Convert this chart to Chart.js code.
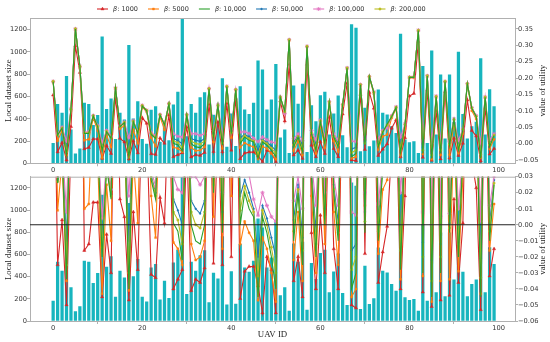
<!DOCTYPE html>
<html lang="en">
<head>
<meta charset="UTF-8">
<title>UAV dataset size and utility</title>
<script src="https://cdn.jsdelivr.net/npm/chart.js"></script>
<style>
  body { margin: 0; background: #fff; }
  #wrap { position: relative; width: 550px; height: 342px; }
  #botBox { position: absolute; left: 0; top: 170px; width: 550px; height: 172px; }
  #topBox { position: absolute; left: 0; top: 0; width: 550px; height: 176px; }
  canvas { display: block; }
</style>
</head>
<body>
<div id="wrap">
  <div id="botBox"><canvas id="bottomChart" width="550" height="172"></canvas></div>
  <div id="topBox"><canvas id="topChart" width="550" height="176"></canvas></div>
</div>
<script>
// ---- data ----
const uavIds = Array.from({length: 100}, (_, i) => i);

const datasetSize = [
  180, 530, 450, 780, 300, 85, 130, 540, 530, 340,
  430, 1135, 485, 580, 215, 450, 390, 1060, 400, 555,
  215, 172, 478, 510, 190, 360, 205, 525, 640, 1295,
  240, 530, 450, 590, 635, 165, 432, 380, 760, 146,
  445, 152, 690, 480, 440, 540, 920, 840, 480, 570,
  890, 228, 300, 90, 696, 531, 711, 99, 519, 375,
  609, 639, 255, 444, 606, 249, 141, 1245, 1215, 105,
  495, 150, 201, 660, 450, 435, 330, 270, 1160, 210,
  186, 195, 90, 870, 180, 1010, 255, 795, 219, 795,
  370, 1000, 440, 219, 330, 370, 940, 255, 662, 510
];

const beta1000 = [
  0.148, -0.025, 0.003, -0.050, 0.052, 0.298, 0.217, -0.016, -0.012, 0.014,
  0.014, -0.045, -0.006, -0.030, 0.141, 0.016, 0.005, -0.047, 0.008, -0.028,
  0.079, 0.062, -0.031, -0.033, 0.017, 0.001, 0.087, -0.040, -0.034, -0.028,
  0.050, -0.041, -0.034, -0.036, -0.027, 0.120, -0.024, 0.065, -0.025, 0.123,
  -0.020, 0.138, -0.046, -0.029, -0.026, -0.026, -0.038, -0.055, -0.020, -0.028,
  -0.055, 0.130, 0.069, 0.242, -0.035, -0.020, -0.045, 0.242, -0.005, -0.040,
  0.006, -0.030, 0.080, -0.015, -0.040, 0.090, 0.184, -0.050, -0.052, 0.150,
  -0.018, 0.156, 0.108, -0.036, -0.017, -0.001, 0.047, 0.072, -0.040, 0.018,
  0.145, 0.153, 0.311, -0.042, 0.163, -0.051, 0.100, -0.047, 0.158, -0.044,
  0.016, -0.036, 0.001, 0.133, 0.040, 0.023, -0.053, 0.108, -0.032, -0.015
];

const beta5000 = [
  0.187, 0.009, 0.040, -0.035, 0.100, 0.347, 0.232, 0.010, 0.013, 0.078,
  0.040, -0.043, 0.025, -0.010, 0.167, 0.045, 0.055, -0.041, 0.042, 0.001,
  0.112, 0.097, 0.018, -0.008, 0.082, 0.042, 0.119, -0.011, -0.015, -0.025,
  0.084, -0.012, -0.022, -0.020, -0.010, 0.165, 0.005, 0.112, -0.015, 0.172,
  0.018, 0.162, -0.012, 0.002, -0.005, -0.010, -0.047, -0.008, -0.015, -0.030,
  -0.048, 0.139, 0.095, 0.314, -0.022, 0.008, -0.035, 0.294, 0.018, -0.030,
  0.058, -0.012, 0.122, 0.008, -0.025, 0.115, 0.228, -0.045, -0.040, 0.177,
  0.012, 0.202, 0.152, -0.018, 0.022, 0.028, 0.078, 0.106, -0.034, 0.045,
  0.200, 0.200, 0.343, -0.032, 0.204, -0.048, 0.140, -0.035, 0.187, -0.034,
  0.062, -0.029, 0.030, 0.180, 0.100, 0.075, -0.043, 0.139, -0.016, 0.013
];

const beta10000 = [
  0.189, 0.026, 0.047, -0.034, 0.104, 0.349, 0.235, 0.031, 0.031, 0.084,
  0.051, -0.020, 0.036, 0.016, 0.169, 0.051, 0.064, -0.040, 0.067, 0.031,
  0.115, 0.100, 0.028, 0.016, 0.087, 0.057, 0.121, 0.001, -0.004, -0.022,
  0.087, 0.000, -0.010, -0.012, 0.000, 0.167, 0.020, 0.116, -0.005, 0.174,
  0.030, 0.164, 0.000, 0.020, 0.010, 0.005, -0.045, 0.005, -0.005, -0.020,
  -0.040, 0.141, 0.100, 0.316, -0.010, 0.020, -0.025, 0.296, 0.030, -0.020,
  0.067, 0.000, 0.126, 0.020, -0.010, 0.118, 0.230, -0.040, -0.030, 0.179,
  -0.005, 0.204, 0.156, -0.010, 0.035, 0.060, 0.082, 0.110, -0.028, 0.057,
  0.202, 0.202, 0.345, -0.030, 0.206, -0.045, 0.143, -0.030, 0.189, -0.005,
  0.072, -0.020, 0.042, 0.182, 0.108, 0.082, -0.045, 0.141, -0.010, 0.025
];

const beta50000 = [
  0.190, 0.028, 0.049, -0.010, 0.105, 0.350, 0.236, 0.033, 0.034, 0.085,
  0.053, -0.008, 0.038, 0.019, 0.170, 0.053, 0.065, -0.010, 0.068, 0.034,
  0.116, 0.101, 0.031, 0.020, 0.088, 0.059, 0.122, 0.016, 0.009, 0.000,
  0.088, 0.015, 0.010, 0.007, 0.015, 0.168, 0.030, 0.117, 0.008, 0.175,
  0.038, 0.165, 0.018, 0.028, 0.020, 0.010, -0.020, 0.012, 0.004, -0.008,
  -0.020, 0.142, 0.096, 0.317, 0.003, 0.025, -0.008, 0.297, 0.035, -0.004,
  0.070, 0.010, 0.127, 0.025, 0.001, 0.119, 0.231, -0.016, -0.012, 0.180,
  0.008, 0.205, 0.157, 0.002, 0.038, 0.054, 0.084, 0.111, -0.004, 0.059,
  0.203, 0.203, 0.346, -0.011, 0.207, -0.022, 0.144, -0.012, 0.190, 0.001,
  0.074, -0.005, 0.044, 0.183, 0.109, 0.084, -0.021, 0.142, 0.001, 0.028
];

const beta100000 = [
  0.190, 0.030, 0.050, 0.008, 0.106, 0.350, 0.236, 0.035, 0.036, 0.086,
  0.055, 0.004, 0.040, 0.022, 0.170, 0.055, 0.066, 0.018, 0.070, 0.036,
  0.117, 0.102, 0.034, 0.024, 0.089, 0.060, 0.122, 0.030, 0.022, 0.020,
  0.089, 0.030, 0.030, 0.025, 0.030, 0.168, 0.040, 0.118, 0.020, 0.175,
  0.045, 0.165, 0.035, 0.036, 0.031, 0.016, 0.006, 0.020, 0.012, 0.005,
  0.002, 0.142, 0.092, 0.317, 0.015, 0.030, 0.010, 0.297, 0.040, 0.012,
  0.072, 0.020, 0.128, 0.030, 0.012, 0.120, 0.231, 0.008, 0.006, 0.180,
  0.020, 0.205, 0.158, 0.013, 0.040, 0.047, 0.085, 0.112, 0.020, 0.060,
  0.203, 0.203, 0.346, 0.008, 0.207, 0.000, 0.145, 0.005, 0.190, 0.007,
  0.075, 0.010, 0.045, 0.183, 0.110, 0.085, 0.002, 0.142, 0.012, 0.030
];

const beta200000 = [
  0.190, 0.027, 0.048, -0.025, 0.105, 0.350, 0.236, 0.032, 0.033, 0.085,
  0.052, -0.014, 0.037, 0.018, 0.170, 0.052, 0.065, -0.030, 0.068, 0.033,
  0.116, 0.101, 0.030, 0.018, 0.088, 0.058, 0.122, 0.008, 0.003, -0.012,
  0.088, 0.008, 0.000, -0.002, 0.008, 0.168, 0.025, 0.117, 0.002, 0.175,
  0.034, 0.165, 0.009, 0.024, 0.015, 0.008, -0.032, 0.009, 0.000, -0.014,
  -0.030, 0.142, 0.098, 0.317, -0.004, 0.022, -0.016, 0.297, 0.032, -0.012,
  0.069, 0.005, 0.127, 0.022, -0.005, 0.119, 0.231, -0.028, -0.020, 0.180,
  0.002, 0.205, 0.157, -0.004, 0.036, 0.057, 0.083, 0.111, -0.016, 0.058,
  0.203, 0.203, 0.346, -0.020, 0.207, -0.035, 0.144, -0.020, 0.190, -0.002,
  0.073, -0.012, 0.043, 0.183, 0.109, 0.083, -0.033, 0.142, -0.004, 0.026
];

const betaLabels = ['1000', '5000', '10,000', '50,000', '100,000', '200,000'];
const xTicks = [0, 20, 40, 60, 80, 100];
const sizeTicks = [0, 200, 400, 600, 800, 1000, 1200];
const utilTicksTop = [-0.05, 0, 0.05, 0.10, 0.15, 0.20, 0.25, 0.30, 0.35];
const utilTicksBottom = [-0.06, -0.05, -0.04, -0.03, -0.02, -0.01, 0, 0.01, 0.02, 0.03];

// ---- styling ----
const utilitySeries = [beta1000, beta5000, beta10000, beta50000, beta100000, beta200000];
// z: draw order (lower = on top)
const seriesStyle = [
  {color: '#d62728', point: 'triangle', r: 1.9, z: 6},
  {color: '#ff7f0e', point: 'rect', r: 1.4, z: 5},
  {color: '#2ca02c', point: 'circle', r: 0, z: 1},
  {color: '#1f77b4', point: 'circle', r: 0.9, z: 4},
  {color: '#e377c2', point: 'star', r: 2.0, z: 3},
  {color: '#bcbd22', point: 'circle', r: 1.2, z: 2}
];
const barColor = '#17b5be';
const axisColor = '#b0b0b0';
const tickColor = '#333';
const tickFont = {family: 'DejaVu Sans', size: 6.7};
const titleFont = {family: 'Liberation Serif', size: 8.8};

function buildDatasets() {
  const ds = [{
    type: 'bar',
    data: uavIds.map((x, i) => ({x: x, y: datasetSize[i]})),
    backgroundColor: barColor,
    barThickness: 2.6,
    yAxisID: 'yL',
    order: 10
  }];
  utilitySeries.forEach((vals, k) => {
    const st = seriesStyle[k];
    ds.push({
      type: 'line',
      label: 'β: ' + betaLabels[k],
      data: uavIds.map((x, i) => ({x: x, y: vals[i]})),
      borderColor: st.color,
      backgroundColor: st.color,
      borderWidth: 1.1,
      pointStyle: st.point,
      pointRadius: st.r,
      pointBorderWidth: st.point === 'star' ? 0.9 : 0.4,
      tension: 0,
      yAxisID: 'yR',
      order: st.z
    });
  });
  return ds;
}

function fmtUtil(v) {
  const s = Math.abs(v).toFixed(2);
  return v < -1e-9 ? '\u2212' + s : s;
}

function buildScales(leftMax, rightMin, rightMax, rightTicks, xHeight, showXTitle) {
  const gridOpts = {display: true, drawOnChartArea: false, tickLength: 3, color: axisColor};
  return {
    x: {
      type: 'linear', min: -5.2, max: 103.7, offset: false,
      grid: gridOpts, border: {color: axisColor},
      ticks: {font: tickFont, color: tickColor, padding: 0, maxRotation: 0, callback: v => String(v)},
      afterBuildTicks: s => { s.ticks = xTicks.map(v => ({value: v})); },
      afterFit: s => { s.height = xHeight; },
      title: {display: showXTitle, text: 'UAV ID', font: titleFont, color: '#222', padding: {top: 0, bottom: 2}}
    },
    yL: {
      position: 'left', min: 0, max: leftMax,
      grid: gridOpts, border: {color: axisColor},
      ticks: {font: tickFont, color: tickColor, padding: 0, callback: v => String(v)},
      afterBuildTicks: s => { s.ticks = sizeTicks.map(v => ({value: v})); },
      afterFit: s => { s.width = 30; },
      title: {display: true, text: 'Local dataset size', font: titleFont, color: '#222', padding: {top: 3, bottom: 0}}
    },
    yR: {
      position: 'right', min: rightMin, max: rightMax,
      grid: gridOpts, border: {color: axisColor},
      ticks: {font: tickFont, color: tickColor, padding: 0, callback: v => fmtUtil(v)},
      afterBuildTicks: s => { s.ticks = rightTicks.map(v => ({value: v})); },
      afterFit: s => { s.width = 35; }
    }
  };
}

// top spine + right axis title (reads bottom-to-top like matplotlib)
const framePlugin = {
  id: 'frame',
  afterDraw(chart) {
    const {ctx, chartArea: a} = chart;
    ctx.save();
    ctx.strokeStyle = axisColor;
    ctx.lineWidth = 1;
    ctx.beginPath();
    ctx.moveTo(a.left, a.top + 0.5);
    ctx.lineTo(a.right, a.top + 0.5);
    ctx.stroke();
    ctx.translate(543, (a.top + a.bottom) / 2);
    ctx.rotate(-Math.PI / 2);
    ctx.font = titleFont.size + 'px "' + titleFont.family + '"';
    ctx.fillStyle = '#222';
    ctx.textAlign = 'center';
    ctx.textBaseline = 'middle';
    ctx.fillText('value of utility', 0, 0);
    ctx.restore();
  }
};

const zeroLinePlugin = {
  id: 'zeroLine',
  afterDatasetsDraw(chart) {
    const {ctx, chartArea: a} = chart;
    const y = chart.scales.yR.getPixelForValue(0);
    ctx.save();
    ctx.strokeStyle = '#222';
    ctx.lineWidth = 1.1;
    ctx.beginPath();
    ctx.moveTo(a.left, y);
    ctx.lineTo(a.right, y);
    ctx.stroke();
    ctx.restore();
  }
};

const legendPlugin = {
  id: 'betaLegend',
  afterDraw(chart) {
    const ctx = chart.ctx;
    let x = 97;
    const y = 9;
    ctx.save();
    ctx.textBaseline = 'middle';
    seriesStyle.forEach((st, k) => {
      ctx.strokeStyle = st.color;
      ctx.fillStyle = st.color;
      ctx.lineWidth = 1.1;
      ctx.beginPath();
      ctx.moveTo(x, y);
      ctx.lineTo(x + 11, y);
      ctx.stroke();
      if (st.r > 0 && Chart.helpers && Chart.helpers.drawPoint) {
        ctx.lineWidth = st.point === 'star' ? 0.9 : 0.4;
        Chart.helpers.drawPoint(ctx, {pointStyle: st.point, radius: st.r, rotation: 0, borderWidth: ctx.lineWidth}, x + 5.5, y);
      }
      x += 16;
      ctx.fillStyle = '#333';
      ctx.font = 'italic 6.5px "DejaVu Sans"';
      ctx.fillText('β', x, y);
      x += ctx.measureText('β').width;
      ctx.font = '6.5px "DejaVu Sans"';
      const t = ': ' + betaLabels[k];
      ctx.fillText(t, x, y);
      x += ctx.measureText(t).width + 10;
    });
    ctx.restore();
  }
};

const common = {
  responsive: false,
  animation: false,
  events: [],
  plugins: {legend: {display: false}, tooltip: {enabled: false}}
};

new Chart(document.getElementById('topChart'), {
  type: 'bar',
  data: {datasets: buildDatasets()},
  options: Object.assign({}, common, {
    layout: {padding: {top: 18, left: 0, right: 0, bottom: 0}},
    scales: buildScales(1305, -0.06, 0.383, utilTicksTop, 12.7, false)
  }),
  plugins: [framePlugin, legendPlugin]
});

new Chart(document.getElementById('bottomChart'), {
  type: 'bar',
  data: {datasets: buildDatasets()},
  options: Object.assign({}, common, {
    layout: {padding: {top: 6.7, left: 0, right: 0, bottom: 0}},
    scales: buildScales(1300, -0.06, 0.03, utilTicksBottom, 21, true)
  }),
  plugins: [framePlugin, zeroLinePlugin]
});
</script>
</body>
</html>
